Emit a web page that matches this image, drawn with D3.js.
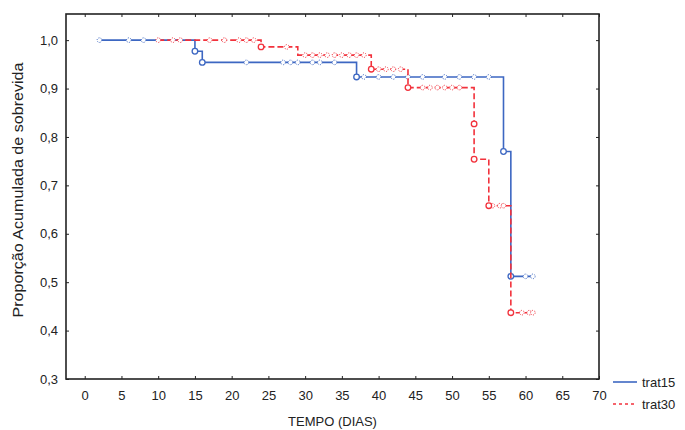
<!DOCTYPE html>
<html>
<head>
<meta charset="utf-8">
<script src="https://cdn.jsdelivr.net/npm/d3@7"></script>
<style>
  body { margin: 0; background: #fff; }
  text { font-family: "Liberation Sans", Arial, sans-serif; fill: #222; }
</style>
</head>
<body>
<div id="chart"></div>
<script>
// survival steps (time, cumulative proportion)
const trat15Times = [2, 15, 16, 37, 57, 58];
const trat15Surv  = [1.0, 0.977, 0.954, 0.924, 0.770, 0.512];
const trat15End   = 61;
const trat15Censored = [2, 6, 8, 22, 27, 28, 29, 31, 32, 34, 38, 40, 42, 44, 46, 49, 51, 53, 55, 60, 61];
const trat15EventT = [15, 16, 37, 57, 58];
const trat15EventS = [0.977, 0.954, 0.924, 0.770, 0.512];

const trat30Times = [10, 24, 29, 39, 44, 53, 55, 58];
const trat30Surv  = [1.0, 0.986, 0.969, 0.940, 0.902, 0.754, 0.658, 0.437];
const trat30End   = 61;
const trat30Censored = [10, 12, 13, 17, 19, 21, 22, 23, 27.5, 30, 31, 32, 33, 34, 35, 36, 37, 38, 40, 41, 42, 43, 46, 47, 48, 49, 50, 51, 55.5, 56.5, 57, 59.5, 60.5, 61];
const trat30EventT = [24, 39, 44, 53, 53, 55, 58];
const trat30EventS = [0.986, 0.940, 0.902, 0.827, 0.754, 0.658, 0.437];

const xTicks = d3.range(0, 75, 5);
const yTicks = [0.3, 0.4, 0.5, 0.6, 0.7, 0.8, 0.9, 1.0];

const W = 685, H = 430;
const pLeft = 66, pRight = 599, pTop = 14, pBottom = 379;

const svg = d3.select("#chart").append("svg")
  .attr("width", W).attr("height", H);

const x = d3.scaleLinear().domain([-2.55, 70]).range([pLeft, pRight]);
const y = d3.scaleLinear().domain([0.3, 1.054]).range([pBottom, pTop]);

const fmt = d => d3.format(".1f")(d).replace(".", ",");

// axes
svg.append("g")
  .attr("transform", `translate(0,${pBottom})`)
  .call(d3.axisBottom(x).tickValues(xTicks).tickSize(-3).tickPadding(12))
  .call(g => g.select(".domain").remove())
  .call(g => g.selectAll("line").attr("stroke", "#222"))
  .call(g => g.selectAll("text").style("font-size", "13px").attr("fill", "#222"));

svg.append("g")
  .attr("transform", `translate(0,${pTop})`)
  .call(d3.axisTop(x).tickValues(xTicks).tickSize(-3).tickFormat(""))
  .call(g => g.select(".domain").remove())
  .call(g => g.selectAll("line").attr("stroke", "#222"));

svg.append("g")
  .attr("transform", `translate(${pLeft},0)`)
  .call(d3.axisLeft(y).tickValues(yTicks).tickSize(-3).tickPadding(8).tickFormat(fmt))
  .call(g => g.select(".domain").remove())
  .call(g => g.selectAll("line").attr("stroke", "#222"))
  .call(g => g.selectAll("text").style("font-size", "13px").attr("fill", "#222"));

svg.append("g")
  .attr("transform", `translate(${pRight},0)`)
  .call(d3.axisRight(y).tickValues(yTicks).tickSize(-3).tickFormat(""))
  .call(g => g.select(".domain").remove())
  .call(g => g.selectAll("line").attr("stroke", "#222"));

svg.append("rect")
  .attr("x", pLeft).attr("y", pTop)
  .attr("width", pRight - pLeft).attr("height", pBottom - pTop)
  .attr("fill", "none").attr("stroke", "#222").attr("stroke-width", 1.6);

// axis titles
svg.append("text")
  .attr("x", (pLeft + pRight) / 2).attr("y", 426)
  .attr("text-anchor", "middle")
  .style("font-size", "13px")
  .text("TEMPO (DIAS)");

svg.append("text")
  .attr("transform", "translate(23,190) rotate(-90)")
  .attr("text-anchor", "middle")
  .attr("textLength", 255)
  .attr("lengthAdjust", "spacingAndGlyphs")
  .style("font-size", "14px")
  .text("Proporção Acumulada de sobrevida");

const line = d3.line()
  .x(d => x(d[0])).y(d => y(d[1]))
  .curve(d3.curveStepAfter);

function drawSeries(times, surv, end, censored, evT, evS, color, dash) {
  const pts = times.map((t, i) => [t, surv[i]]);
  pts.push([end, surv[surv.length - 1]]);
  const at = t => surv[Math.max(0, d3.bisectRight(times, t) - 1)];

  const g = svg.append("g");
  g.append("path")
    .attr("d", line(pts))
    .attr("fill", "none")
    .attr("stroke", color)
    .attr("stroke-width", 1.6)
    .attr("stroke-dasharray", dash);

  g.selectAll(".cens")
    .data(censored)
    .join("circle")
      .attr("class", "cens")
      .attr("cx", d => x(d)).attr("cy", d => y(at(d)))
      .attr("r", 2.3)
      .attr("fill", "#fff")
      .attr("stroke", color)
      .attr("stroke-width", 1)
      .attr("stroke-dasharray", "1,1.2");

  g.selectAll(".ev")
    .data(evT.map((t, i) => [t, evS[i]]))
    .join("circle")
      .attr("class", "ev")
      .attr("cx", d => x(d[0])).attr("cy", d => y(d[1]))
      .attr("r", 2.8)
      .attr("fill", "#fff")
      .attr("stroke", color)
      .attr("stroke-width", 1.3);
}

const blue = "#3d67c2", red = "#f2323c";
drawSeries(trat15Times, trat15Surv, trat15End, trat15Censored, trat15EventT, trat15EventS, blue, null);
drawSeries(trat30Times, trat30Surv, trat30End, trat30Censored, trat30EventT, trat30EventS, red, "6,3");

// legend
const legend = [["trat15", blue, null], ["trat30", red, "3,3"]];
const lg = svg.append("g");
legend.forEach((d, i) => {
  const ly = 382 + i * 22;
  lg.append("line")
    .attr("x1", 613).attr("x2", 637).attr("y1", ly).attr("y2", ly)
    .attr("stroke", d[1]).attr("stroke-width", 1.6)
    .attr("stroke-dasharray", d[2]);
  lg.append("text")
    .attr("x", 642).attr("y", ly + 4.5)
    .style("font-size", "13px")
    .text(d[0]);
});
</script>
</body>
</html>
